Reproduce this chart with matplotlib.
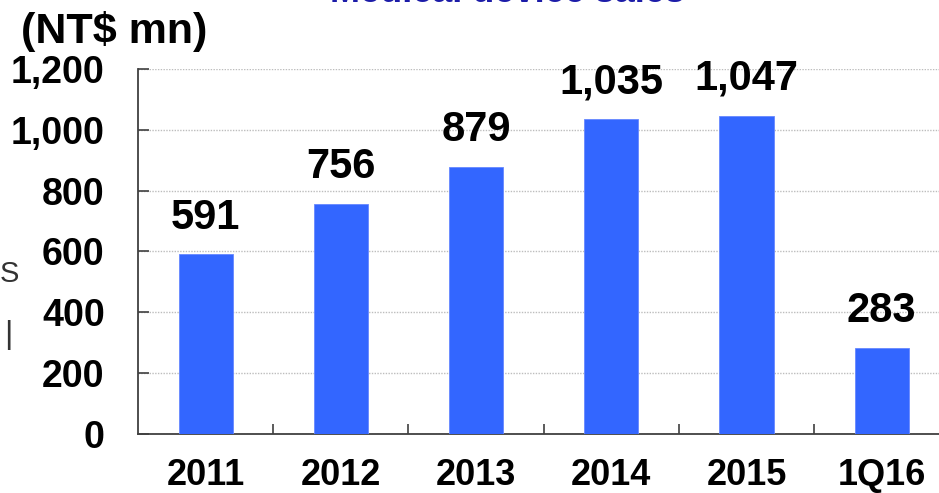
import matplotlib
matplotlib.use("Agg")
import matplotlib.pyplot as plt
import numpy as np

plt.rcParams['font.family'] = ['Liberation Sans', 'DejaVu Sans']

# sales by period, NT$ mn
periods = ['2011', '2012', '2013', '2014', '2015', '1Q16']
sales = [591, 756, 879, 1035, 1047, 283]
yticks = [0, 200, 400, 600, 800, 1000, 1200]

fig = plt.figure(figsize=(9.39, 4.93), dpi=100)
ax = fig.add_axes([0.147, 0.1197, 0.864, 0.7404])

x = np.arange(len(periods))
ax.bar(x, sales, width=0.4, color='#3366ff', edgecolor='#6688ff', linewidth=0.6, zorder=3)

for xi, v in zip(x, sales):
    ax.annotate(f'{v:,}', (xi, v), xytext=(0, 12), textcoords='offset points',
                ha='center', va='bottom', fontsize=30, fontweight='bold', color='black')

ax.set_xlim(-0.5, len(periods) - 0.5)
ax.set_ylim(0, 1200)
ax.set_yticks(yticks)
ax.set_yticklabels([f'{t:,}' for t in yticks], fontsize=27, fontweight='bold')
ax.set_xticks(x)
ax.set_xticklabels(periods, fontsize=26, fontweight='bold')
ax.set_xticks(np.arange(len(periods) - 1) + 0.5, minor=True)

ax.tick_params(axis='x', which='major', length=0, pad=17)
ax.tick_params(axis='x', which='minor', direction='in', length=7, width=1.2, color='#404040')
ax.tick_params(axis='y', direction='in', length=8, width=1.2, color='#404040', pad=24)

ax.grid(axis='y', linestyle=(0, (1, 1)), color='#bdbdbd', linewidth=1.0, zorder=0)
for s in ['top', 'right']:
    ax.spines[s].set_visible(False)
for s in ['left', 'bottom']:
    ax.spines[s].set_color('#404040')
    ax.spines[s].set_linewidth(1.3)

fig.text(0.022, 0.895, '(NT$ mn)', fontsize=31, fontweight='bold', ha='left', va='bottom')
fig.text(0.54, 0.995, 'Medical device sales', fontsize=26, fontweight='bold',
         color='#1c1ca8', ha='center', va='baseline')

# leftovers of neighbouring slide text
fig.text(0.0, 0.445, 'S', fontsize=21, color='#333333', ha='left', va='center')
fig.text(0.004, 0.32, '|', fontsize=23, color='#333333', ha='left', va='center')

fig.savefig('out.png', dpi=100)
